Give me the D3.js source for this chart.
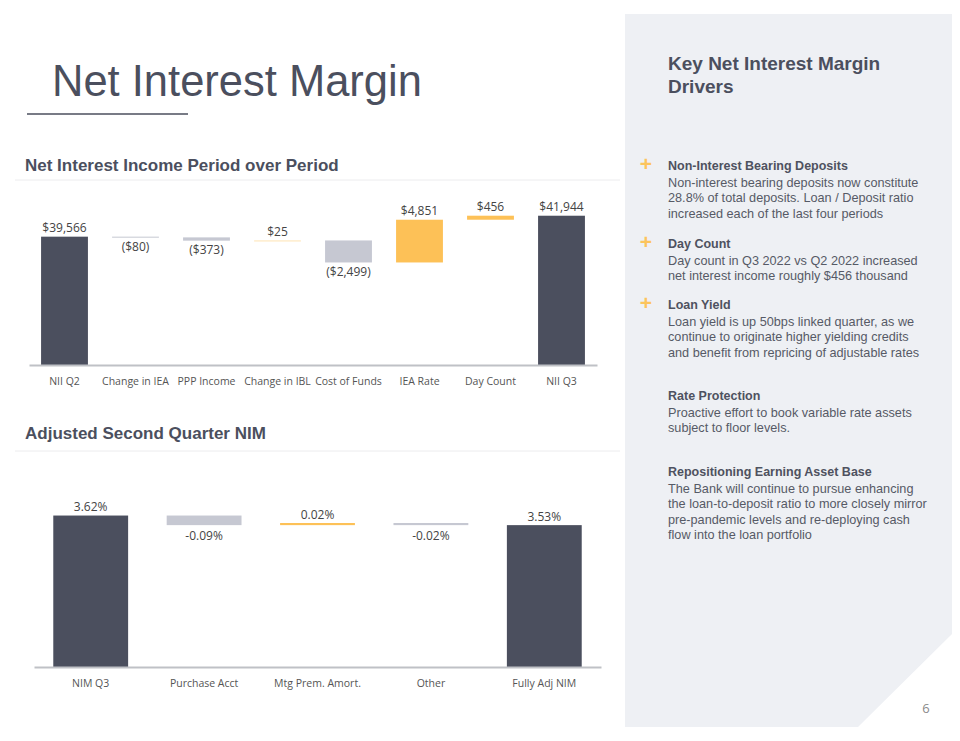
<!DOCTYPE html>
<html>
<head>
<meta charset="utf-8">
<script src="https://cdn.jsdelivr.net/npm/d3@7"></script>
<style>
  body { margin: 0; background: #fff; }
  svg { display: block; }
</style>
</head>
<body>
<div id="container"></div>
<script>
// NII waterfall
const niiCategories = ["NII Q2", "Change in IEA", "PPP Income", "Change in IBL", "Cost of Funds", "IEA Rate", "Day Count", "NII Q3"]
const niiValues = [39566, -80, -373, 25, -2499, 4851, 456, 41944]
const niiLabels = ["$39,566", "($80)", "($373)", "$25", "($2,499)", "$4,851", "$456", "$41,944"]

// NIM waterfall
const nimCategories = ["NIM Q3", "Purchase Acct", "Mtg Prem. Amort.", "Other", "Fully Adj NIM"]
const nimValues = [3.62, -0.09, 0.02, -0.02, 3.53]
const nimLabels = ["3.62%", "-0.09%", "0.02%", "-0.02%", "3.53%"]

// side panel text
const drivers = [
  { head: "Non-Interest Bearing Deposits", plus: true, y: 170,
    lines: ["Non-interest bearing deposits now constitute", "28.8% of total deposits. Loan / Deposit ratio", "increased each of the last four periods"] },
  { head: "Day Count", plus: true, y: 248,
    lines: ["Day count in Q3 2022 vs Q2 2022 increased", "net interest income roughly $456 thousand"] },
  { head: "Loan Yield", plus: true, y: 309,
    lines: ["Loan yield is up 50bps linked quarter, as we", "continue to originate higher yielding credits", "and benefit from repricing of adjustable rates"] },
  { head: "Rate Protection", plus: false, y: 400,
    lines: ["Proactive effort to book variable rate assets", "subject to floor levels."] },
  { head: "Repositioning Earning Asset Base", plus: false, y: 476,
    lines: ["The Bank will continue to pursue enhancing", "the loan-to-deposit ratio to more closely mirror", "pre-pandemic levels and re-deploying cash", "flow into the loan portfolio"] }
]

const W = 960, H = 741
const dark = "#4b4f5e", grey = "#c6c8d2", gold = "#fdc157"

const svg = d3.select("#container").append("svg")
    .attr("width", W)
    .attr("height", H)

// right panel with cut corner
svg.append("path")
    .attr("d", "M625,14 L952,14 L952,634 L858,727 L625,727 Z")
    .attr("fill", "#eef0f4")

// title
svg.append("text")
    .attr("x", 52).attr("y", 96)
    .text("Net Interest Margin")
    .style("font", "43.5px 'Liberation Sans', Arial, sans-serif")
    .attr("fill", dark)

svg.append("line")
    .attr("x1", 27).attr("x2", 188).attr("y1", 114).attr("y2", 114)
    .attr("stroke", dark).attr("stroke-width", 1.5)

function waterfall(opts) {
    const { cats, vals, labels, x0, x1, base, top, domain, subtitle, subY, sepY, negOff } = opts

    svg.append("text")
        .attr("x", 25).attr("y", subY)
        .text(subtitle)
        .style("font", "bold 17px 'Liberation Sans', Arial, sans-serif")
        .attr("fill", dark)

    svg.append("line")
        .attr("x1", 15).attr("x2", 620).attr("y1", sepY).attr("y2", sepY)
        .attr("stroke", "#ececee").attr("stroke-width", 1)

    const xScale = d3.scaleBand().domain(cats).range([x0, x1]).paddingInner(0.34).paddingOuter(0.17)
    const yScale = d3.scaleLinear().domain(domain).range([base, top])

    // running totals
    let run = 0
    const bars = vals.map((v, i) => {
        const last = i === vals.length - 1
        let start, end, kind
        if (i === 0 || last) { start = domain[0]; end = v; run = v; kind = "total" }
        else { start = run; end = run + v; run = end; kind = v < 0 ? "neg" : "pos" }
        return { cat: cats[i], v, start, end, kind, label: labels[i] }
    })

    const g = svg.append("g")

    g.selectAll("rect.bar")
        .data(bars)
        .join("rect")
        .attr("class", "bar")
        .attr("x", d => xScale(d.cat))
        .attr("width", xScale.bandwidth())
        .attr("y", d => yScale(Math.max(d.start, d.end)))
        .attr("height", d => Math.max(1, Math.abs(yScale(d.start) - yScale(d.end))))
        .attr("fill", d => d.kind === "total" ? dark : d.kind === "neg" ? grey : gold)
        .attr("fill-opacity", d => Math.abs(yScale(d.start) - yScale(d.end)) < 0.5 ? 0.45 : 1)

    // baseline axis
    const axis = g.append("g")
        .attr("transform", "translate(0," + base + ")")
        .call(d3.axisBottom(xScale).tickSize(0).tickPadding(13))
    axis.select(".domain").attr("stroke", "#bfc1c6").attr("stroke-width", 2)
    axis.selectAll("text")
        .style("font", "10.5px 'Open Sans', sans-serif")
        .attr("fill", "#555")

    g.selectAll("text.val")
        .data(bars)
        .join("text")
        .attr("class", "val")
        .attr("text-anchor", "middle")
        .attr("x", d => xScale(d.cat) + xScale.bandwidth() / 2)
        .attr("y", d => d.kind === "neg" ? yScale(d.end) + negOff : yScale(Math.max(d.start, d.end)) - 4.5)
        .text(d => d.label)
        .style("font", "12px 'Open Sans', sans-serif")
        .attr("fill", "#444")
}

waterfall({
    cats: niiCategories, vals: niiValues, labels: niiLabels,
    x0: 29, x1: 597, base: 365, top: 188.8, domain: [25000, 45000],
    subtitle: "Net Interest Income Period over Period", subY: 171, sepY: 180, negOff: 13.5
})

waterfall({
    cats: nimCategories, vals: nimValues, labels: nimLabels,
    x0: 34, x1: 601, base: 667, top: 475, domain: [2.2, 4.0],
    subtitle: "Adjusted Second Quarter NIM", subY: 439, sepY: 451, negOff: 15
})

// side panel
svg.append("text")
    .attr("x", 668).attr("y", 70)
    .style("font", "bold 19px 'Liberation Sans', Arial, sans-serif")
    .attr("fill", dark)
    .selectAll("tspan")
    .data(["Key Net Interest Margin", "Drivers"])
    .join("tspan")
    .attr("x", 668)
    .attr("dy", (d, i) => i === 0 ? 0 : 23)
    .text(d => d)

const dg = svg.append("g")
drivers.forEach(d => {
    if (d.plus) {
        dg.append("text")
            .attr("x", 646).attr("y", d.y + 1)
            .attr("text-anchor", "middle")
            .text("+")
            .style("font", "bold 21px 'Liberation Sans', Arial, sans-serif")
            .attr("fill", "#fcc45c")
    }
    dg.append("text")
        .attr("x", 668).attr("y", d.y)
        .text(d.head)
        .style("font", "bold 12.5px 'Liberation Sans', Arial, sans-serif")
        .attr("fill", "#4e5260")
    d.lines.forEach((t, i) => {
        dg.append("text")
            .attr("x", 668).attr("y", d.y + 17 + i * 15.3)
            .text(t)
            .style("font", "12.7px 'Liberation Sans', Arial, sans-serif")
            .attr("fill", "#565a66")
    })
})

svg.append("text")
    .attr("x", 926).attr("y", 713)
    .attr("text-anchor", "middle")
    .text("6")
    .style("font", "13px 'Open Sans', sans-serif")
    .attr("fill", "#8a8a8a")
</script>
</body>
</html>
